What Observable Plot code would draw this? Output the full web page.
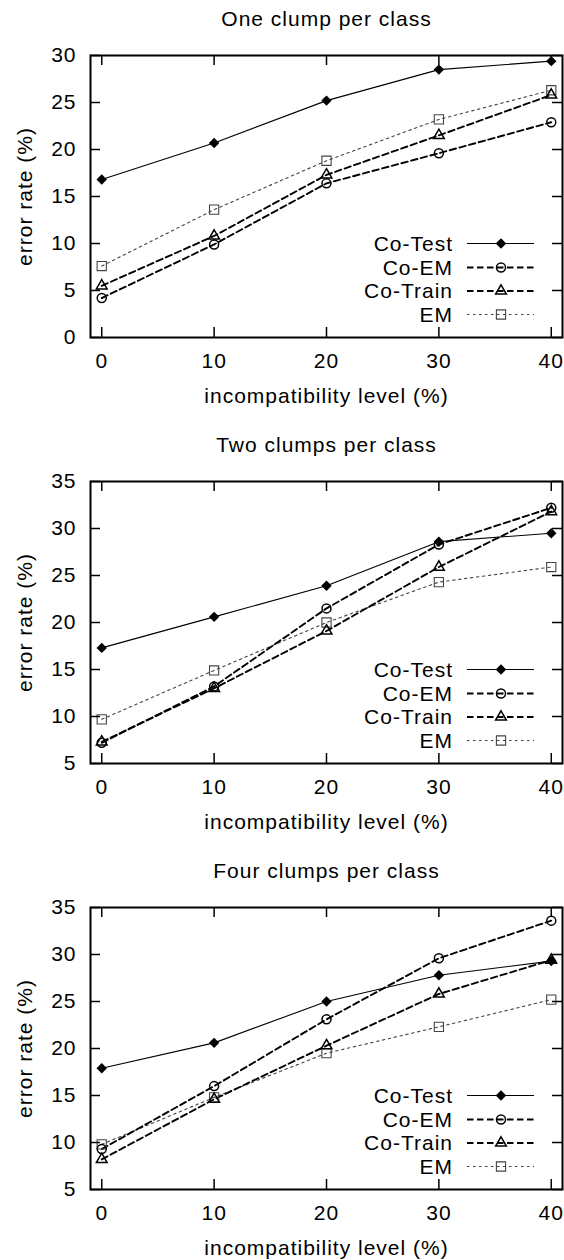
<!DOCTYPE html>
<html>
<head>
<meta charset="utf-8">
<script src="https://cdn.jsdelivr.net/npm/d3@7"></script>
<script src="https://cdn.jsdelivr.net/npm/@observablehq/plot@0.6"></script>
<style>
  body { margin: 0; background: #fff; }
  #charts { width: 564px; }
  #charts svg { display: block; }
</style>
</head>
<body>
<div id="charts"></div>
<script>
// ---------- data ----------
const levels = [0, 10, 20, 30, 40];
const seriesNames = ["Co-Test", "Co-EM", "Co-Train", "EM"];
const panelTitles = ["One clump per class", "Two clumps per class", "Four clumps per class"];
const xLabel = "incompatibility level (%)";
const yLabel = "error rate (%)";
const yTicksOne = [0, 5, 10, 15, 20, 25, 30];
const yTicksMany = [5, 10, 15, 20, 25, 30, 35];

// One clump per class
const oneCoTest  = [16.8, 20.7, 25.2, 28.5, 29.4];
const oneCoEM    = [4.2, 9.9, 16.4, 19.6, 22.9];
const oneCoTrain = [5.5, 10.8, 17.3, 21.5, 25.8];
const oneEM      = [7.6, 13.6, 18.8, 23.2, 26.3];

// Two clumps per class
const twoCoTest  = [17.3, 20.6, 23.9, 28.6, 29.5];
const twoCoEM    = [7.2, 13.2, 21.5, 28.3, 32.2];
const twoCoTrain = [7.3, 13.0, 19.1, 25.9, 31.8];
const twoEM      = [9.7, 14.9, 20.0, 24.3, 25.9];

// Four clumps per class
const fourCoTest  = [17.9, 20.6, 25.0, 27.8, 29.3];
const fourCoEM    = [9.3, 16.0, 23.1, 29.6, 33.6];
const fourCoTrain = [8.2, 14.6, 20.3, 25.8, 29.4];
const fourEM      = [9.8, 14.8, 19.5, 22.3, 25.2];

// ---------- styles ----------
const styles = {
  "Co-Test":  {stroke: "#000", strokeWidth: 1.1, dash: null,      symbol: "diamond2", d3sym: d3.symbolDiamond2, r: 4.7, fill: "#000", mStroke: "none", mWidth: 0},
  "Co-EM":    {stroke: "#000", strokeWidth: 1.9, dash: "6.5,3.5", symbol: "circle",   d3sym: d3.symbolCircle,   r: 4.5, fill: "none", mStroke: "#000", mWidth: 1.5},
  "Co-Train": {stroke: "#000", strokeWidth: 1.9, dash: "6.5,3.5", symbol: "triangle", d3sym: d3.symbolTriangle, r: 4.0, fill: "none", mStroke: "#000", mWidth: 1.5},
  "EM":       {stroke: "#444", strokeWidth: 1.1, dash: "2.5,3.5", symbol: "square",   d3sym: d3.symbolSquare,   r: 5.2, fill: "none", mStroke: "#444", mWidth: 1.1}
};

const FONT = "'Liberation Sans', Arial, Helvetica, sans-serif";
const FS = 21;

function rowsFor(seriesArrays) {
  const rows = [];
  seriesNames.forEach((name, i) => {
    levels.forEach((lv, j) => rows.push({series: name, level: lv, rate: seriesArrays[i][j]}));
  });
  return rows;
}

function panel(title, yDomain, yTicks, seriesArrays, height, marginBottom) {
  const marginTop = 55, marginLeft = 90, marginRight = 2, width = 564;
  const plotH = height - marginTop - marginBottom;
  const plotW = width - marginLeft - marginRight;
  const rows = rowsFor(seriesArrays);
  const order = ["EM", "Co-Train", "Co-EM", "Co-Test"];
  const marks = [];
  for (const name of order) {
    const s = styles[name];
    const d = rows.filter(r => r.series === name);
    marks.push(Plot.line(d, {x: "level", y: "rate", stroke: s.stroke, strokeWidth: s.strokeWidth,
      strokeDasharray: s.dash || undefined, strokeLinejoin: "miter"}));
  }
  for (const name of order) {
    const s = styles[name];
    const d = rows.filter(r => r.series === name);
    marks.push(Plot.dot(d, {x: "level", y: "rate", symbol: () => s.symbol, r: s.r, fill: s.fill,
      stroke: s.mStroke, strokeWidth: s.mWidth}));
  }
  // inward ticks on all four sides
  marks.push(Plot.ruleX(levels, {x: d => d, insetTop: plotH - 10, stroke: "#000", strokeWidth: 1.5}));
  marks.push(Plot.ruleX(levels, {x: d => d, insetBottom: plotH - 10, stroke: "#000", strokeWidth: 1.5}));
  marks.push(Plot.ruleY(yTicks, {y: d => d, insetRight: plotW - 10, stroke: "#000", strokeWidth: 1.5}));
  marks.push(Plot.ruleY(yTicks, {y: d => d, insetLeft: plotW - 10, stroke: "#000", strokeWidth: 1.5}));
  marks.push(Plot.frame({stroke: "#000", strokeWidth: 2}));
  marks.push(Plot.axisX({ticks: levels, tickSize: 0, tickPadding: 16, fontSize: FS, label: null, tickFormat: d => String(d)}));
  marks.push(Plot.axisY({ticks: yTicks, tickSize: 0, tickPadding: 14, fontSize: FS, label: null, tickFormat: d => String(d)}));
  marks.push(Plot.text([title], {text: d => d, frameAnchor: "top", dy: -36, fontSize: FS, fill: "#000",
    textAnchor: "middle", lineAnchor: "middle"}));
  marks.push(Plot.text([xLabel], {text: d => d, frameAnchor: "bottom", dy: 59, fontSize: FS, fill: "#000",
    textAnchor: "middle", lineAnchor: "middle"}));
  marks.push(Plot.text([yLabel], {text: d => d, frameAnchor: "left", dx: -65, rotate: -90, fontSize: FS, fill: "#000",
    textAnchor: "middle", lineAnchor: "middle"}));

  const chart = Plot.plot({
    width, height, marginTop, marginBottom, marginLeft, marginRight,
    x: {domain: [-1, 41], label: null},
    y: {domain: yDomain, label: null},
    style: {fontFamily: FONT, fontSize: FS + "px", letterSpacing: "1px", color: "#000", background: "#fff"},
    marks
  });

  // legend (layout only)
  const svg = d3.select(chart);
  const frameBottom = marginTop + plotH;
  const rowOffsets = [-93.5, -69.5, -46, -22.5];
  const g = svg.append("g").attr("font-size", FS).attr("font-family", FONT);
  seriesNames.forEach((name, i) => {
    const s = styles[name];
    const y = frameBottom + rowOffsets[i];
    g.append("text").attr("x", 453).attr("y", y).attr("dy", "0.35em")
      .attr("text-anchor", "end").attr("fill", "#000").text(name);
    const ln = g.append("line").attr("x1", 467).attr("x2", 534).attr("y1", y).attr("y2", y)
      .attr("stroke", s.stroke).attr("stroke-width", s.strokeWidth);
    if (s.dash) ln.attr("stroke-dasharray", s.dash);
    g.append("path").attr("transform", `translate(501,${y})`)
      .attr("d", d3.symbol(s.d3sym, Math.PI * s.r * s.r)())
      .attr("fill", s.fill).attr("stroke", s.mStroke).attr("stroke-width", s.mWidth);
  });
  return chart;
}

const root = document.getElementById("charts");
root.appendChild(panel(panelTitles[0], [0, 30], yTicksOne, [oneCoTest, oneCoEM, oneCoTrain, oneEM], 426, 89));
root.appendChild(panel(panelTitles[1], [5, 35], yTicksMany, [twoCoTest, twoCoEM, twoCoTrain, twoEM], 426, 89));
root.appendChild(panel(panelTitles[2], [5, 35], yTicksMany, [fourCoTest, fourCoEM, fourCoTrain, fourEM], 408, 71));
</script>
</body>
</html>
